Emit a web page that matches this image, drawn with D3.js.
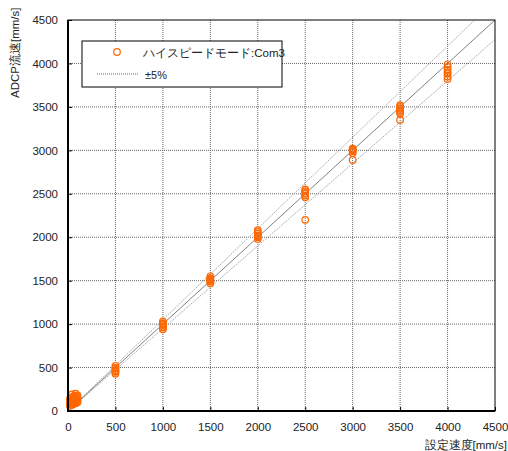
<!DOCTYPE html>
<html><head><meta charset="utf-8">
<script src="https://cdn.jsdelivr.net/npm/d3@7"></script>
<style>body{margin:0;background:#fff;} text{font-family:"Liberation Sans",Arial,sans-serif;}</style>
</head><body><svg id="c" width="508" height="451"></svg>
<script>
const xTicks = [0,500,1000,1500,2000,2500,3000,3500,4000,4500];
const yTicks = [0,500,1000,1500,2000,2500,3000,3500,4000,4500];
const setX = [20,20,20,20,20, 40,40,40,40,40,40, 60,60,60,60,60, 80,80,80,80,80,80, 100,100,100,100,100,
  500,500,500,500,500,500,500,
  1000,1000,1000,1000,1000,1000,1000,
  1500,1500,1500,1500,1500,1500,1500,
  2000,2000,2000,2000,2000,2000,2000,
  2500,2500,2500,2500,2500,2500,2500,
  3000,3000,3000,3000,3000,3000,
  3500,3500,3500,3500,3500,3500,3500,
  4000,4000,4000,4000,4000,4000,4000];
const adcpY = [60,80,100,120,140, 70,90,110,130,160,190, 80,100,120,140,170, 90,110,130,150,170,200, 100,120,140,160,180,
  520,500,490,470,460,450,430,
  1030,1010,1000,990,970,960,940,
  1550,1530,1520,1510,1500,1490,1470,
  2080,2060,2040,2020,2010,2000,1980,
  2550,2530,2510,2500,2480,2460,2200,
  3020,3010,3000,2990,2970,2890,
  3520,3500,3480,3460,3440,3420,3350,
  3990,3960,3930,3900,3880,3850,3820];
const refRange = [50,4500];
const tolerance = 0.05;
const seriesName = "ハイスピードモード:Com3";
const tolName = "±5%";

const svg = d3.select("#c");
const L=68,R=495,T=20,B=411;
const x = d3.scaleLinear().domain([0,4500]).range([L,R]);
const y = d3.scaleLinear().domain([0,4500]).range([B,T]);

svg.append("defs").append("clipPath").attr("id","clip").append("rect")
  .attr("x",L).attr("y",T).attr("width",R-L).attr("height",B-T);

// grid
const g = svg.append("g");
g.selectAll(".vg").data(xTicks.slice(1,-1)).enter().append("line")
  .attr("x1",d=>x(d)).attr("x2",d=>x(d)).attr("y1",T).attr("y2",B)
  .attr("stroke","#666").attr("stroke-width",1).attr("stroke-dasharray","1,1");
g.selectAll(".hg").data(yTicks.slice(1,-1)).enter().append("line")
  .attr("y1",d=>y(d)).attr("y2",d=>y(d)).attr("x1",L).attr("x2",R)
  .attr("stroke","#666").attr("stroke-width",1).attr("stroke-dasharray","1,1");

// reference lines
const lines = svg.append("g").attr("clip-path","url(#clip)");
const ln = d3.line().x(d=>x(d[0])).y(d=>y(d[1]));
lines.append("path").attr("d",ln(refRange.map(v=>[v,v*(1+tolerance)])))
  .attr("stroke","#b0b0b0").attr("fill","none").attr("stroke-dasharray","2,1");
lines.append("path").attr("d",ln(refRange.map(v=>[v,v*(1-tolerance)])))
  .attr("stroke","#b0b0b0").attr("fill","none").attr("stroke-dasharray","2,1");
lines.append("path").attr("d",ln(refRange.map(v=>[v,v])))
  .attr("stroke","#808080").attr("fill","none").attr("stroke-width",1);

// points
svg.append("g").selectAll("circle").data(setX).enter().append("circle")
  .attr("cx",d=>x(d)).attr("cy",(d,i)=>y(adcpY[i])).attr("r",3.3)
  .attr("fill","none").attr("stroke","#FF6600").attr("stroke-width",1.2);

// frame
svg.append("rect").attr("x",L).attr("y",T).attr("width",R-L).attr("height",B-T)
  .attr("fill","none").attr("stroke","#000").attr("stroke-width",1);
svg.append("line").attr("x1",L).attr("x2",L).attr("y1",T).attr("y2",B+1).attr("stroke","#000").attr("stroke-width",2);
svg.append("line").attr("x1",L-1).attr("x2",R).attr("y1",B).attr("y2",B).attr("stroke","#000").attr("stroke-width",2);

// axes
const xa = svg.append("g").attr("transform",`translate(0,${B})`)
  .call(d3.axisBottom(x).tickValues(xTicks).tickSize(-4).tickPadding(12).tickFormat(d3.format("d")));
const ya = svg.append("g").attr("transform",`translate(${L},0)`)
  .call(d3.axisLeft(y).tickValues(yTicks).tickSize(-4).tickPadding(10).tickFormat(d3.format("d")));
[xa,ya].forEach(a=>{
  a.select(".domain").remove();
  a.selectAll(".tick line").attr("stroke","#000");
  a.selectAll("text").attr("font-size","11.5px").attr("fill","#222").style("font-family","'Liberation Sans',Arial,sans-serif");
});

// axis titles
svg.append("text").attr("x",507).attr("y",449).attr("text-anchor","end")
  .attr("font-size","11.5px").attr("fill","#222").text("設定速度[mm/s]");
svg.append("text").attr("transform","translate(19,98) rotate(-90)").attr("text-anchor","start")
  .attr("font-size","11.5px").attr("fill","#222").text("ADCP流速[mm/s]");

// legend
const lg = svg.append("g");
lg.append("rect").attr("x",82).attr("y",41).attr("width",200).attr("height",46)
  .attr("fill","#fff").attr("stroke","#000").attr("stroke-width",1);
lg.append("circle").attr("cx",117).attr("cy",52).attr("r",3.3)
  .attr("fill","none").attr("stroke","#FF6600").attr("stroke-width",1.2);
lg.append("text").attr("x",143).attr("y",57).attr("font-size","11.5px").attr("fill","#222").text(seriesName);
lg.append("line").attr("x1",97).attr("x2",138).attr("y1",74).attr("y2",74)
  .attr("stroke","#666").attr("stroke-dasharray","1,1");
lg.append("text").attr("x",145).attr("y",79).attr("font-size","11px").attr("fill","#222").text(tolName);
</script></body></html>
